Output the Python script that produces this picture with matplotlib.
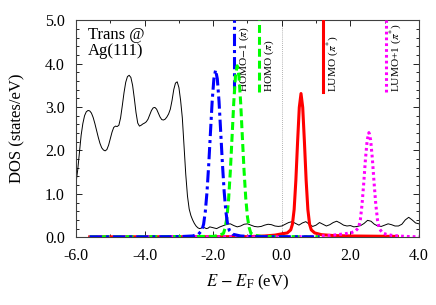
import numpy as np
import matplotlib
matplotlib.use('Agg')
import matplotlib.pyplot as plt
from matplotlib.ticker import MultipleLocator, FormatStrFormatter

plt.rcParams['font.family'] = ['Liberation Serif', 'DejaVu Serif']
plt.rcParams['mathtext.fontset'] = 'stix'
plt.rcParams['font.size'] = 12

# total DOS (black)
tot_E = [-6.0, -5.95, -5.9, -5.85, -5.8, -5.75, -5.7, -5.65, -5.6, -5.55, -5.5, -5.45, -5.4, -5.35,
         -5.3, -5.25, -5.2, -5.15, -5.1, -5.05, -5.0, -4.95, -4.9, -4.85, -4.8, -4.75, -4.7, -4.65,
         -4.6, -4.55, -4.5, -4.45, -4.4, -4.35, -4.3, -4.25, -4.2, -4.15, -4.1, -4.05, -4.0, -3.95,
         -3.9, -3.85, -3.8, -3.75, -3.7, -3.65, -3.6, -3.55, -3.5, -3.45, -3.4, -3.35, -3.3, -3.25,
         -3.2, -3.15, -3.1, -3.05, -3.0, -2.95, -2.9, -2.85, -2.8, -2.75, -2.7, -2.65, -2.6, -2.55,
         -2.5, -2.45, -2.4, -2.35, -2.3, -2.25, -2.2, -2.15, -2.1, -2.0, -1.9, -1.8, -1.7, -1.6,
         -1.5, -1.4, -1.3, -1.2, -1.1, -1.0, -0.9, -0.8, -0.7, -0.6, -0.5, -0.4, -0.3, -0.2, -0.1,
         0.0, 0.1, 0.2, 0.3, 0.4, 0.5, 0.6, 0.7, 0.8, 0.9, 1.0, 1.1, 1.2, 1.3, 1.4, 1.5, 1.6, 1.7,
         1.8, 1.9, 2.0, 2.1, 2.2, 2.3, 2.4, 2.5, 2.6, 2.7, 2.8, 2.9, 3.0, 3.1, 3.2, 3.3, 3.4, 3.5,
         3.6, 3.7, 3.8, 3.9, 4.0]
tot_dos = [1.25, 1.55, 1.95, 2.35, 2.62, 2.80, 2.89, 2.92, 2.91, 2.86, 2.76, 2.62, 2.46, 2.30,
           2.16, 2.06, 2.01, 1.99, 2.02, 2.12, 2.27, 2.42, 2.53, 2.56, 2.55, 2.58, 2.75, 3.03,
           3.33, 3.57, 3.70, 3.73, 3.68, 3.50, 3.20, 2.87, 2.63, 2.56, 2.58, 2.61, 2.63, 2.66,
           2.72, 2.82, 2.92, 2.98, 2.99, 2.95, 2.86, 2.77, 2.71, 2.70, 2.72, 2.77, 2.84, 2.95,
           3.15, 3.40, 3.55, 3.58, 3.45, 3.15, 2.75, 2.10, 1.45, 0.95, 0.65, 0.50, 0.40, 0.32,
           0.26, 0.22, 0.20, 0.21, 0.23, 0.22, 0.20, 0.21, 0.24, 0.22, 0.20, 0.24, 0.27, 0.30,
           0.31, 0.27, 0.24, 0.26, 0.30, 0.31, 0.28, 0.25, 0.24, 0.25, 0.28, 0.30, 0.29, 0.26, 0.25,
           0.26, 0.30, 0.34, 0.36, 0.32, 0.28, 0.33, 0.36, 0.30, 0.25, 0.28, 0.34, 0.30, 0.26, 0.29,
           0.34, 0.37, 0.33, 0.28, 0.26, 0.27, 0.24, 0.25, 0.27, 0.32, 0.39, 0.37, 0.30, 0.26, 0.25,
           0.28, 0.31, 0.29, 0.26, 0.26, 0.30, 0.40, 0.46, 0.40, 0.33, 0.31]

# HOMO-1 projected DOS (blue)
h1_E = [-5.6, -4.0, -3.0, -2.6, -2.43, -2.33, -2.28, -2.23, -2.18, -2.13, -2.08, -2.03, -1.98,
        -1.93, -1.88, -1.83, -1.78, -1.73, -1.68, -1.63, -1.58, -1.53, -1.43, -1.2, -0.8, 1.1]
h1_dos = [0.01, 0.01, 0.015, 0.03, 0.07, 0.16, 0.30, 0.59, 1.05, 1.68, 2.41, 3.13, 3.65,
          3.85, 3.65, 3.13, 2.41, 1.68, 1.05, 0.59, 0.30, 0.16, 0.07, 0.03, 0.015, 0.01]

# HOMO projected DOS (green)
h_E = [-5.6, -2.0, -1.8, -1.7, -1.65, -1.6, -1.55, -1.5, -1.45, -1.4, -1.35, -1.3, -1.25,
       -1.2, -1.15, -1.1, -1.05, -1.0, -0.95, -0.9, -0.8, -0.6, 1.1]
h_dos = [0.01, 0.02, 0.05, 0.09, 0.22, 0.46, 0.89, 1.53, 2.31, 3.11, 3.72, 3.95, 3.72,
         3.11, 2.31, 1.53, 0.89, 0.46, 0.22, 0.09, 0.05, 0.02, 0.01]

# LUMO projected DOS (red)
l_E = [-5.6, -1.0, -0.5, -0.2, 0.0, 0.16, 0.26, 0.31, 0.36, 0.41, 0.46, 0.51, 0.56, 0.61,
       0.66, 0.71, 0.76, 0.81, 0.86, 0.96, 1.16, 1.5, 2.0, 3.37]
l_dos = [0.01, 0.015, 0.03, 0.05, 0.08, 0.10, 0.17, 0.30, 0.64, 1.31, 2.19, 2.99, 3.31, 2.99,
         2.19, 1.31, 0.64, 0.30, 0.17, 0.10, 0.06, 0.04, 0.03, 0.02]

# LUMO+1 projected DOS (magenta)
l1_E = [-5.6, 0.0, 1.0, 1.5, 1.84, 2.04, 2.14, 2.24, 2.29, 2.34, 2.39, 2.44, 2.49, 2.54,
        2.59, 2.64, 2.69, 2.74, 2.79, 2.84, 2.94, 3.04, 3.24, 3.6, 4.0]
l1_dos = [0.01, 0.01, 0.02, 0.05, 0.08, 0.11, 0.14, 0.22, 0.40, 0.76, 1.26, 1.81, 2.24, 2.41,
          2.24, 1.81, 1.26, 0.76, 0.40, 0.20, 0.10, 0.07, 0.04, 0.02, 0.01]

# gas-phase level positions
level_E = [-1.38, -0.66, 1.21, 3.05]
level_names = [r'HOMO$-$1 ($\pi$)', r'HOMO ($\pi$)', r'LUMO ($\pi^{*}$)', r'LUMO+1 ($\pi^{*}$)']

styles = [
    dict(color='#0000ff', linestyle=(0, (4, 1.3, 1, 1.3))),
    dict(color='#00ff00', linestyle=(0, (2.6, 1.3))),
    dict(color='#ff0000', linestyle='-'),
    dict(color='#ff00ff', linestyle=(0, (0.9, 1.0))),
]

fig = plt.figure(figsize=(4.36, 3.05), dpi=100)
ax = fig.add_axes([0.1743, 0.222, 0.7867, 0.712])

ax.axvline(0.0, color='0.6', lw=0.6, linestyle=(0, (1, 1.5)), zorder=1)
ax.plot(tot_E, tot_dos, color='black', lw=0.7, zorder=2)

curves = [(h1_E, h1_dos), (h_E, h_dos), (l_E, l_dos), (l1_E, l1_dos)]
order = [2, 3, 1, 0]
for i in order:
    E, d = curves[i]
    ax.plot(E, d, lw=2.2, zorder=3 + order.index(i), **styles[i])

for i, (e, name) in enumerate(zip(level_E, level_names)):
    ax.plot([e, e], [3.35, 5.0], lw=2.2, zorder=3, **styles[i])
    ax.text(e + 0.28, 3.35, name, rotation=90, ha='center', va='bottom', fontsize=8.2)

ax.text(-5.66, 4.84, 'Trans @\nAg(111)', ha='left', va='top', fontsize=12, linespacing=1.0)

ax.set_xlim(-6.0, 4.0)
ax.set_ylim(0.0, 5.0)
ax.xaxis.set_major_locator(MultipleLocator(2.0))
ax.xaxis.set_minor_locator(MultipleLocator(1.0))
ax.yaxis.set_major_locator(MultipleLocator(1.0))
ax.yaxis.set_minor_locator(MultipleLocator(0.2))
ax.xaxis.set_major_formatter(FormatStrFormatter('%.1f'))
ax.yaxis.set_major_formatter(FormatStrFormatter('%.1f'))
ax.tick_params(which='both', direction='in', top=True, right=True, width=0.6)
ax.tick_params(which='major', length=4, labelsize=11.5)
ax.tick_params(axis='x', which='major', pad=8)
ax.tick_params(axis='y', which='major', pad=8)
ax.tick_params(which='minor', length=2)
for s in ax.spines.values():
    s.set_linewidth(0.8)
    s.set_color('0.25')

ax.set_xlabel(r'$E$ $-$ $E_{\mathrm{F}}$ (eV)', fontsize=12, labelpad=6)
ax.set_ylabel('DOS (states/eV)', fontsize=12, labelpad=14)

fig.savefig('out.png', dpi=100)
